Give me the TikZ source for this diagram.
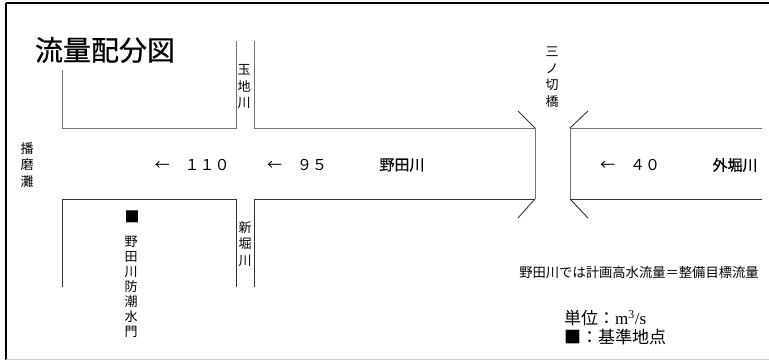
\documentclass[tikz,border=0pt]{standalone}
\usepackage{fontspec}
\setmainfont{Liberation Serif}
\newfontfamily\jp{Noto Sans CJK JP}
\newfontfamily\jpb[FakeBold=0.6]{Noto Sans CJK JP}
\begin{document}
\begin{tikzpicture}[x=1pt,y=-1pt,
  riv/.style={draw=black!80,line width=0.9pt},
  rivg/.style={draw=black!55,line width=1pt},
  vlab/.style={align=center,inner sep=0pt,font=\jp\fontsize{13}{16.5}\selectfont},
  hlab/.style={inner sep=0pt,font=\jp\fontsize{15}{15}\selectfont},
]
\useasboundingbox (0,0) rectangle (769,360);
% frame
\draw[line width=1.6pt] (5.5,3) -- (769,3);
\draw[line width=2pt] (5.5,3) -- (5.5,360);
\draw[black!20,line width=1pt] (5.5,359) -- (769,359);
% title
\node[inner sep=0pt,font=\jpb\fontsize{28}{28}\selectfont] (title) at (105,50) {流量配分図};
% upper banks
\draw[rivg] (62,70) -- (62,128) -- (236,128) -- (236,41);
\draw[rivg] (254,41) -- (254,128) -- (535,128) -- (535,199);
\draw[rivg] (762,128) -- (570,128) -- (570,199);
\draw[riv] (535,128) -- (518,111);
\draw[riv] (570,128) -- (588,111);
% lower banks
\draw[riv] (62,287) -- (62,199) -- (236,199) -- (236,287);
\draw[riv] (254,287) -- (254,199) -- (535,199);
\draw[riv] (762,199) -- (570,199);
\draw[riv] (535,199) -- (518,218);
\draw[riv] (570,199) -- (588,218);
% labels
\node[vlab] (harima) at (27,165) {播\\磨\\灘};
\node[vlab] (tamachi) at (244,87) {玉\\地\\川};
\node[vlab] (sannokiri) at (552,77) {三\\ノ\\切\\橋};
\node[vlab] (shinbori) at (245,244) {新\\堀\\川};
\node[vlab,font=\jp\fontsize{13}{15}\selectfont] (suimon) at (131,287) {野\\田\\川\\防\\潮\\水\\門};
\node[inner sep=0pt,font=\jp\fontsize{15}{15}\selectfont] (base) at (132,217) {■};
\node[hlab] (q110) at (192,165) {←　１１０};
\node[hlab] (q95) at (297,165) {←　９５};
\node[hlab,font=\jpb\fontsize{15}{15}\selectfont] (noda) at (402,165) {野田川};
\node[hlab] (q40) at (630,165) {←　４０};
\node[hlab,font=\jpb\fontsize{15}{15}\selectfont] (sotobori) at (735,165) {外堀川};
\node[inner sep=0pt,font=\jp\fontsize{13.3}{13.3}\selectfont] (note) at (639,272) {野田川では計画高水流量＝整備目標流量};
\node[anchor=west,inner sep=0pt,font=\fontsize{17}{17}\selectfont] (unit) at (564,318) {{\jp 単位：}m\textsuperscript{3}/s};
\node[anchor=west,inner sep=0pt,font=\jp\fontsize{17}{17}\selectfont] (legend) at (564,337) {■：基準地点};
\end{tikzpicture}
\end{document}
